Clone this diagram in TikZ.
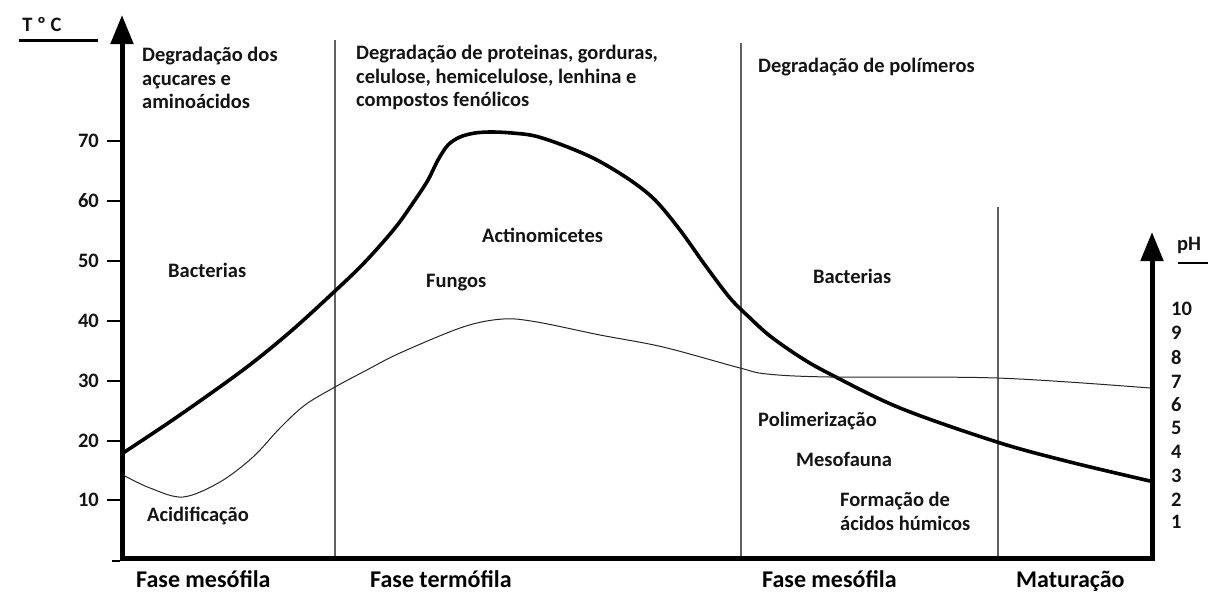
\documentclass[tikz,border=0pt]{standalone}
\usepackage{fontspec}
\setmainfont{Carlito}
\usetikzlibrary{arrows.meta}
\begin{document}
\begin{tikzpicture}[x=1pt,y=-1pt,
  lbl/.style={font=\fontsize{20.5}{23.5}\selectfont\bfseries, inner sep=0pt, text=black!92},
  blk/.style={lbl, align=left, anchor=north west},
  phase/.style={font=\fontsize{24}{28}\selectfont\bfseries, inner sep=0pt, anchor=base west},
  axisline/.style={line width=5pt, line join=miter},
  divider/.style={draw=black!62, line width=1.4pt},
  tick/.style={line width=1.3pt},
  tcurve/.style={line width=3.6pt, line cap=round, line join=round},
  phcurve/.style={line width=1pt, black!85}
]
\useasboundingbox (0,0) rectangle (1208,592);
\fill[white] (0,0) rectangle (1208,592);

% axes
\coordinate (Ttop) at (122,15);
\coordinate (O) at (122,558);
\coordinate (R) at (1152,558);
\coordinate (Rtop) at (1152,232);
\draw[axisline, {Triangle[length=29pt,width=22pt]}-{Triangle[length=29pt,width=22pt]}] (Ttop) -- (O) -- (R) -- (Rtop);

% dividers
\coordinate (d1t) at (335,40);  \coordinate (d1b) at (335,556);
\coordinate (d2t) at (741,43);  \coordinate (d2b) at (741,556);
\coordinate (d3t) at (998,207); \coordinate (d3b) at (998,556);
\draw[divider] (d1t) -- (d1b);
\draw[divider] (d2t) -- (d2b);
\draw[divider] (d3t) -- (d3b);

% left ticks and labels
\foreach \v/\yy in {70/141,60/201,50/261,40/321,30/381,20/441,10/500}{
  \draw[tick] (107,\yy) -- (120,\yy);
  \node[lbl, anchor=east] (t\v) at (99,\yy) {\v};
}
\draw[tick] (112,561) -- (120,561);

% T C label
\node[lbl] (TC) at (42,24) {T º C};
\coordinate (tcl) at (19,40); \coordinate (tcr) at (98,40);
\draw[line width=3pt] (tcl) -- (tcr);

% pH label
\node[lbl] (pH) at (1189,245) {pH};
\coordinate (phl) at (1178,263); \coordinate (phr) at (1208,263);
\draw[line width=1.2pt] (phl) -- (phr);
\foreach \v/\yy in {10/309,9/333,8/357,7/382,6/405,5/428,4/452,3/476,2/500,1/522}{
  \node[lbl, anchor=west] (p\v) at (1171,\yy) {\v};
}

% curves
\draw[tcurve] plot[smooth, tension=0.55] coordinates {
 (123,453) (177,417) (243,370) (290,332) (335,291) (365,262) (395,228)
 (415,200) (428,180) (438,160) (448,145) (460,137) (475,133) (492,132)
 (512,133) (535,136) (565,146) (597,160) (630,180) (655,200) (680,230)
 (705,265) (730,298) (750,318) (770,336) (800,357) (830,374) (900,408)
 (997,442) (1070,462) (1150,481)};
\draw[phcurve] plot[smooth, tension=0.55] coordinates {
 (123,475) (150,488) (183,497) (220,482) (253,457) (280,428) (305,405)
 (335,387) (365,371) (400,353) (463,327) (503,319) (537,322) (600,335)
 (663,347) (740,368) (767,374) (830,377) (997,378) (1150,388)};

% texts
\node[blk] (g1) at (142,47) {Degradação dos\\açucares e\\aminoácidos};
\node[blk] (g2) at (356,45) {Degradação de proteinas, gorduras,\\celulose, hemicelulose, lenhina e\\compostos fenólicos};
\node[blk] (g3) at (758,58) {Degradação de polímeros};
\node[lbl, anchor=west] (b1) at (168,270) {Bacterias};
\node[lbl, anchor=west] (fu) at (426,283) {Fungos};
\node[lbl, anchor=west] (ac) at (482,235) {Actinomicetes};
\node[lbl, anchor=west] (b2) at (813,276) {Bacterias};
\node[lbl, anchor=west] (po) at (758,421) {Polimerização};
\node[lbl, anchor=west] (me) at (796,459) {Mesofauna};
\node[blk] (fo) at (840,492) {Formação de\\ácidos húmicos};
\node[lbl, anchor=west] (aci) at (147,516) {Acidificação};

% phases
\node[phase] (f1) at (136,587) {Fase mesófila};
\node[phase] (f2) at (370,587) {Fase termófila};
\node[phase] (f3) at (762,587) {Fase mesófila};
\node[phase] (f4) at (1016,587) {Maturação};
\end{tikzpicture}
\end{document}
